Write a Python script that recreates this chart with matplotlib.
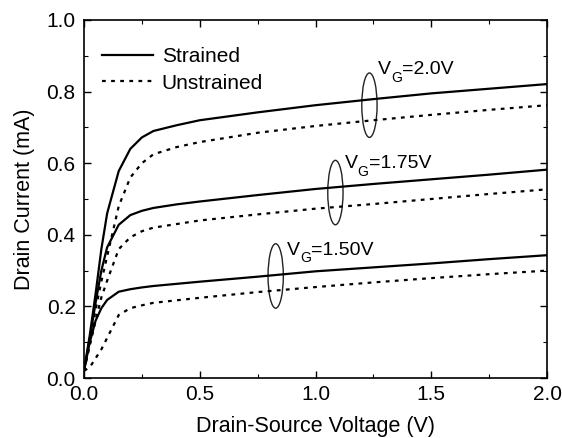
import matplotlib
matplotlib.use("Agg")
import matplotlib.pyplot as plt
from matplotlib.patches import Ellipse
from matplotlib.ticker import MultipleLocator, FormatStrFormatter

plt.rcParams['font.family'] = 'Liberation Sans'

# drain-source voltage (V)
vds = [0, 0.025, 0.05, 0.075, 0.1, 0.15, 0.2, 0.25, 0.3, 0.4, 0.5, 0.75, 1.0, 1.25, 1.5, 1.75, 2.0]

# drain current (mA)
strained_200 = [0.02, 0.12, 0.235, 0.36, 0.46, 0.578, 0.64, 0.672, 0.69, 0.706, 0.72, 0.742, 0.762, 0.779, 0.795, 0.808, 0.821]
unstrained_200 = [0.02, 0.10, 0.19, 0.27, 0.34, 0.48, 0.56, 0.60, 0.625, 0.645, 0.659, 0.685, 0.704, 0.72, 0.735, 0.749, 0.762]
strained_175 = [0.02, 0.11, 0.21, 0.30, 0.365, 0.428, 0.455, 0.467, 0.475, 0.485, 0.493, 0.511, 0.528, 0.542, 0.555, 0.568, 0.582]
unstrained_175 = [0.02, 0.09, 0.16, 0.225, 0.272, 0.36, 0.393, 0.41, 0.42, 0.43, 0.44, 0.457, 0.473, 0.486, 0.5, 0.514, 0.527]
strained_150 = [0.02, 0.10, 0.16, 0.195, 0.218, 0.241, 0.248, 0.253, 0.257, 0.263, 0.269, 0.283, 0.298, 0.309, 0.32, 0.332, 0.343]
unstrained_150 = [0.02, 0.03, 0.055, 0.08, 0.112, 0.176, 0.195, 0.203, 0.21, 0.217, 0.224, 0.24, 0.254, 0.267, 0.279, 0.29, 0.300]

# ellipse markers and gate-voltage labels
ell_centers = [(1.233, 0.762), (1.086, 0.518), (0.828, 0.285)]
vg_values = ['=2.0V', '=1.75V', '=1.50V']
label_pos = [(1.27, 0.849), (1.125, 0.586), (0.877, 0.344)]

fig = plt.figure(figsize=(5.62, 4.38), dpi=100)
ax = fig.add_axes([84/562, 60/438, 463/562, 358/438])

dots = (0, (1.7, 2.4))
ax.plot(vds, strained_200, color='black', lw=1.6, label='Strained')
ax.plot(vds, unstrained_200, color='black', lw=1.6, ls=dots, label='Unstrained')
ax.plot(vds, strained_175, color='black', lw=1.6)
ax.plot(vds, unstrained_175, color='black', lw=1.6, ls=dots)
ax.plot(vds, strained_150, color='black', lw=1.6)
ax.plot(vds, unstrained_150, color='black', lw=1.6, ls=dots)

for c in ell_centers:
    ax.add_patch(Ellipse(c, 0.066, 0.18, fill=False, ec='#222222', lw=1.0))

# V, subscript G, then the value
for (x, y), t in zip(label_pos, vg_values):
    ax.annotate('V', (x, y), fontsize=14, ha='left', va='baseline')
    ax.annotate('G', (x, y), xytext=(9.5, -5.5), textcoords='offset points',
                fontsize=10, ha='left', va='baseline')
    ax.annotate(t, (x, y), xytext=(17.5, 0), textcoords='offset points',
                fontsize=14, ha='left', va='baseline')

ax.set_xlim(0, 2.0)
ax.set_ylim(0, 1.0)
ax.xaxis.set_major_locator(MultipleLocator(0.5))
ax.xaxis.set_minor_locator(MultipleLocator(0.25))
ax.yaxis.set_major_locator(MultipleLocator(0.2))
ax.yaxis.set_minor_locator(MultipleLocator(0.1))
ax.xaxis.set_major_formatter(FormatStrFormatter('%.1f'))
ax.yaxis.set_major_formatter(FormatStrFormatter('%.1f'))
ax.tick_params(which='both', direction='in', top=True, right=True, labelsize=15)
ax.tick_params(axis='x', pad=5)
ax.tick_params(axis='y', pad=6)
ax.tick_params(which='major', length=5, width=1)
ax.tick_params(which='minor', length=3, width=0.8)
for s in ax.spines.values():
    s.set_linewidth(1.2)

ax.set_xlabel('Drain-Source Voltage (V)', fontsize=15.5, labelpad=9)
ax.set_ylabel('Drain Current (mA)', fontsize=15.5, labelpad=8)

ax.legend(loc='upper left', bbox_to_anchor=(0.038, 0.925), frameon=False, fontsize=15,
          handlelength=2.48, handletextpad=0.4, labelspacing=0.38,
          borderpad=0, borderaxespad=0)

fig.savefig('out.png', dpi=100)
